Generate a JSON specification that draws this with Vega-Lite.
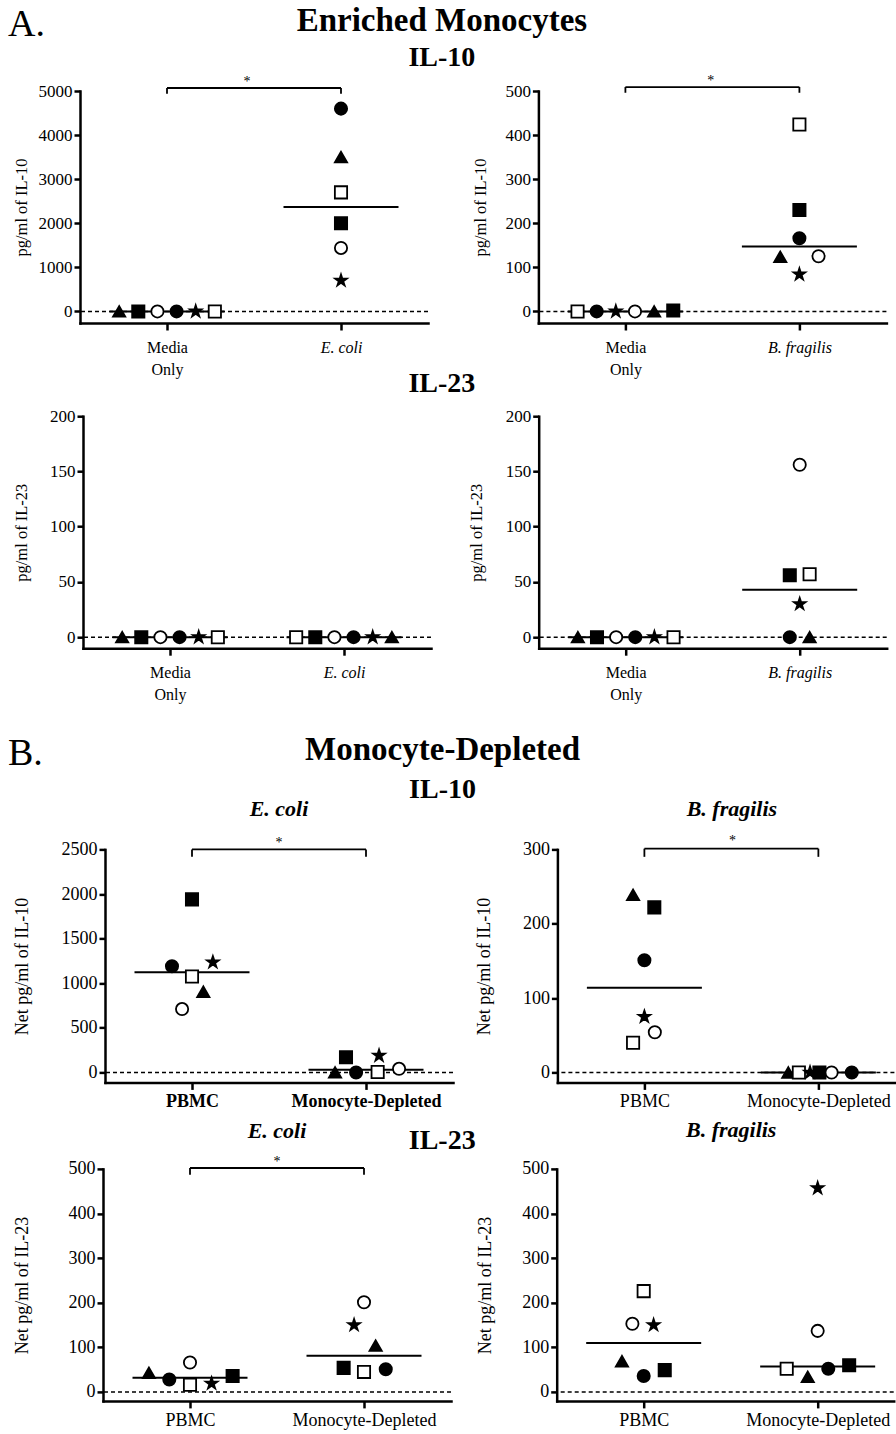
{
"$schema": "https://vega.github.io/schema/vega-lite/v6.json",
"background": "white",
"padding": {"left": 8, "top": 4, "right": 0, "bottom": 0},
"columns": 1,
"align": "none",
"spacing": 30.4,
"datasets": {
"zero": [{"v": 0}],
"points": [
{"panel":"A1","x":0.725,"y":0,"marker":"tri"},
{"panel":"A1","x":0.835,"y":0,"marker":"fsq"},
{"panel":"A1","x":0.945,"y":0,"marker":"oc"},
{"panel":"A1","x":1.055,"y":0,"marker":"fc"},
{"panel":"A1","x":1.165,"y":0,"marker":"star"},
{"panel":"A1","x":1.275,"y":0,"marker":"osq"},
{"panel":"A1","x":2,"y":4600,"marker":"fc"},
{"panel":"A1","x":2,"y":3500,"marker":"tri"},
{"panel":"A1","x":2,"y":2700,"marker":"osq"},
{"panel":"A1","x":2,"y":2000,"marker":"fsq"},
{"panel":"A1","x":2,"y":1440,"marker":"oc"},
{"panel":"A1","x":2,"y":700,"marker":"star"},
{"panel":"A2","x":0.725,"y":0,"marker":"osq"},
{"panel":"A2","x":0.835,"y":0,"marker":"fc"},
{"panel":"A2","x":0.945,"y":0,"marker":"star"},
{"panel":"A2","x":1.055,"y":0,"marker":"oc"},
{"panel":"A2","x":1.165,"y":0,"marker":"tri"},
{"panel":"A2","x":1.275,"y":2,"marker":"fsq"},
{"panel":"A2","x":2,"y":424,"marker":"osq"},
{"panel":"A2","x":2,"y":230,"marker":"fsq"},
{"panel":"A2","x":2,"y":166,"marker":"fc"},
{"panel":"A2","x":1.89,"y":124,"marker":"tri"},
{"panel":"A2","x":2.11,"y":125,"marker":"oc"},
{"panel":"A2","x":2,"y":84,"marker":"star"},
{"panel":"A3","x":0.725,"y":0,"marker":"tri"},
{"panel":"A3","x":0.835,"y":0,"marker":"fsq"},
{"panel":"A3","x":0.945,"y":0,"marker":"oc"},
{"panel":"A3","x":1.055,"y":0,"marker":"fc"},
{"panel":"A3","x":1.165,"y":0,"marker":"star"},
{"panel":"A3","x":1.275,"y":0,"marker":"osq"},
{"panel":"A3","x":1.725,"y":0,"marker":"osq"},
{"panel":"A3","x":1.835,"y":0,"marker":"fsq"},
{"panel":"A3","x":1.945,"y":0,"marker":"oc"},
{"panel":"A3","x":2.055,"y":0,"marker":"fc"},
{"panel":"A3","x":2.165,"y":0,"marker":"star"},
{"panel":"A3","x":2.275,"y":0,"marker":"tri"},
{"panel":"A4","x":0.725,"y":0,"marker":"tri"},
{"panel":"A4","x":0.835,"y":0,"marker":"fsq"},
{"panel":"A4","x":0.945,"y":0,"marker":"oc"},
{"panel":"A4","x":1.055,"y":0,"marker":"fc"},
{"panel":"A4","x":1.165,"y":0,"marker":"star"},
{"panel":"A4","x":1.275,"y":0,"marker":"osq"},
{"panel":"A4","x":2,"y":156,"marker":"oc"},
{"panel":"A4","x":1.943,"y":56,"marker":"fsq"},
{"panel":"A4","x":2.057,"y":57,"marker":"osq"},
{"panel":"A4","x":2,"y":30,"marker":"star"},
{"panel":"A4","x":1.943,"y":0,"marker":"fc"},
{"panel":"A4","x":2.057,"y":0,"marker":"tri"},
{"panel":"B1","x":1,"y":1940,"marker":"fsq"},
{"panel":"B1","x":0.885,"y":1190,"marker":"fc"},
{"panel":"B1","x":1.12,"y":1235,"marker":"star"},
{"panel":"B1","x":1,"y":1075,"marker":"osq"},
{"panel":"B1","x":1.065,"y":905,"marker":"tri"},
{"panel":"B1","x":0.943,"y":710,"marker":"oc"},
{"panel":"B1","x":1.885,"y":170,"marker":"fsq"},
{"panel":"B1","x":2.075,"y":188,"marker":"star"},
{"panel":"B1","x":1.822,"y":0,"marker":"tri"},
{"panel":"B1","x":1.943,"y":0,"marker":"fc"},
{"panel":"B1","x":2.067,"y":5,"marker":"osq"},
{"panel":"B1","x":2.19,"y":40,"marker":"oc"},
{"panel":"B2","x":0.935,"y":239,"marker":"tri"},
{"panel":"B2","x":1.057,"y":222,"marker":"fsq"},
{"panel":"B2","x":1,"y":151,"marker":"fc"},
{"panel":"B2","x":1,"y":75,"marker":"star"},
{"panel":"B2","x":1.06,"y":54,"marker":"oc"},
{"panel":"B2","x":0.935,"y":40,"marker":"osq"},
{"panel":"B2","x":1.827,"y":0,"marker":"tri"},
{"panel":"B2","x":1.888,"y":0,"marker":"osq"},
{"panel":"B2","x":1.952,"y":0,"marker":"star"},
{"panel":"B2","x":2.006,"y":0,"marker":"fsq"},
{"panel":"B2","x":2.076,"y":0,"marker":"oc"},
{"panel":"B2","x":2.192,"y":0,"marker":"fc"},
{"panel":"B3","x":0.764,"y":43,"marker":"tri"},
{"panel":"B3","x":0.881,"y":28,"marker":"fc"},
{"panel":"B3","x":1,"y":66,"marker":"oc"},
{"panel":"B3","x":1,"y":16,"marker":"osq"},
{"panel":"B3","x":1.124,"y":19,"marker":"star"},
{"panel":"B3","x":1.245,"y":36,"marker":"fsq"},
{"panel":"B3","x":2,"y":201,"marker":"oc"},
{"panel":"B3","x":1.943,"y":150,"marker":"star"},
{"panel":"B3","x":2.067,"y":104,"marker":"tri"},
{"panel":"B3","x":1.883,"y":54,"marker":"fsq"},
{"panel":"B3","x":2,"y":45,"marker":"osq"},
{"panel":"B3","x":2.125,"y":51,"marker":"fc"},
{"panel":"B4","x":1,"y":226,"marker":"osq"},
{"panel":"B4","x":0.935,"y":153,"marker":"oc"},
{"panel":"B4","x":1.057,"y":150,"marker":"star"},
{"panel":"B4","x":0.875,"y":69,"marker":"tri"},
{"panel":"B4","x":1,"y":36,"marker":"fc"},
{"panel":"B4","x":1.121,"y":49,"marker":"fsq"},
{"panel":"B4","x":2,"y":457,"marker":"star"},
{"panel":"B4","x":2,"y":137,"marker":"oc"},
{"panel":"B4","x":1.822,"y":52,"marker":"osq"},
{"panel":"B4","x":1.943,"y":34,"marker":"tri"},
{"panel":"B4","x":2.061,"y":52,"marker":"fc"},
{"panel":"B4","x":2.181,"y":60,"marker":"fsq"}
],
"means": [
{"panel":"A1","x":1,"y":0},{"panel":"A1","x":2,"y":2370},
{"panel":"A2","x":1,"y":0},{"panel":"A2","x":2,"y":147},
{"panel":"A3","x":1,"y":0},{"panel":"A3","x":2,"y":0},
{"panel":"A4","x":1,"y":0},{"panel":"A4","x":2,"y":43},
{"panel":"B1","x":1,"y":1123},{"panel":"B1","x":2,"y":29},
{"panel":"B2","x":1,"y":114},{"panel":"B2","x":2,"y":0},
{"panel":"B3","x":1,"y":32},{"panel":"B3","x":2,"y":81},
{"panel":"B4","x":1,"y":110},{"panel":"B4","x":2,"y":57}
],
"brackets": [
{"panel":"A1","xa":1,"xb":2,"ya":5068,"yb":5068},
{"panel":"A1","xa":1,"xb":1,"ya":5068,"yb":4935},
{"panel":"A1","xa":2,"xb":2,"ya":5068,"yb":4935},
{"panel":"A2","xa":1,"xb":2,"ya":509,"yb":509},
{"panel":"A2","xa":1,"xb":1,"ya":509,"yb":496},
{"panel":"A2","xa":2,"xb":2,"ya":509,"yb":496},
{"panel":"B1","xa":1,"xb":2,"ya":2500,"yb":2500},
{"panel":"B1","xa":1,"xb":1,"ya":2500,"yb":2418},
{"panel":"B1","xa":2,"xb":2,"ya":2500,"yb":2418},
{"panel":"B2","xa":1,"xb":2,"ya":301,"yb":301},
{"panel":"B2","xa":1,"xb":1,"ya":301,"yb":290},
{"panel":"B2","xa":2,"xb":2,"ya":301,"yb":290},
{"panel":"B3","xa":1,"xb":2,"ya":502,"yb":502},
{"panel":"B3","xa":1,"xb":1,"ya":502,"yb":487},
{"panel":"B3","xa":2,"xb":2,"ya":502,"yb":487}
],
"stars": [
{"panel":"A1","x":1.46,"y":5280,"label":"*"},
{"panel":"A2","x":1.49,"y":530,"label":"*"},
{"panel":"B1","x":1.5,"y":2604,"label":"*"},
{"panel":"B2","x":1.506,"y":315,"label":"*"},
{"panel":"B3","x":1.5,"y":522,"label":"*"}
]
},
"config": {
"view": {"stroke": null},
"font": "Liberation Serif",
"axis": {"grid": false, "domainColor": "black", "domainWidth": 2.5, "domainCap": "square", "tickColor": "black", "tickWidth": 2.5, "labelColor": "black", "titleColor": "black", "labelFont": "Liberation Serif", "titleFont": "Liberation Serif", "titleFontWeight": "normal", "labelFlush": false, "labelOverlap": false, "labelAngle": 0},
"title": {"font": "Liberation Serif", "color": "black", "fontWeight": "bold", "subtitleFont": "Liberation Serif", "subtitleColor": "black", "subtitleFontWeight": "bold"}
},
"concat": [
{
"title": {"text": "Enriched Monocytes", "subtitle": "IL-10", "fontSize": 33, "subtitleFontSize": 28, "subtitlePadding": 6.5, "anchor": "middle", "frame": "bounds", "offset": -66.5, "dx": -5.8},
"columns": 1,
"align": "none",
"spacing": -8.8,
"concat": [
{
"title": {"text": "A.", "anchor": "start", "frame": "bounds", "fontSize": 38, "fontWeight": "normal", "offset": 30.2, "dx": -4},
"spacing": 0,
"hconcat": [
{"width": 1, "height": 1, "data": {"values": []}, "mark": {"type": "point", "opacity": 0}},
{"spacing": 42.4,
"hconcat": [
{"width": 348, "height": 232, "layer": [
{"data": {"name": "zero"}, "mark": {"type": "rule", "strokeDash": [4, 3], "strokeWidth": 1.5, "color": "black"}, "encoding": {"y": {"field": "v", "type": "quantitative"}}},
{"data": {"name": "means"}, "transform": [{"filter": "datum.panel == 'A1'"}], "mark": {"type": "tick", "orient": "horizontal", "size": 115, "thickness": 2, "color": "black", "opacity": 1}, "encoding": {"x": {"field": "x", "type": "quantitative"}, "y": {"field": "y", "type": "quantitative"}}},
{"data": {"name": "brackets"}, "transform": [{"filter": "datum.panel == 'A1'"}], "mark": {"type": "rule", "strokeWidth": 1.8, "color": "black"}, "encoding": {"x": {"field": "xa", "type": "quantitative"}, "x2": {"field": "xb"}, "y": {"field": "ya", "type": "quantitative"}, "y2": {"field": "yb"}}},
{"data": {"name": "stars"}, "transform": [{"filter": "datum.panel == 'A1'"}], "mark": {"type": "text", "fontSize": 14, "baseline": "middle", "align": "center", "fill": "black", "dy": 3}, "encoding": {"x": {"field": "x", "type": "quantitative"}, "y": {"field": "y", "type": "quantitative"}, "text": {"field": "label"}}},
{"data": {"name": "points"}, "transform": [{"filter": "datum.panel == 'A1'"}], "mark": {"type": "point", "filled": true, "size": 150, "stroke": "black", "strokeWidth": 1.8, "opacity": 1},
"encoding": {
"x": {"field": "x", "type": "quantitative", "scale": {"domain": [0.5, 2.5], "nice": false, "zero": false}, "axis": {"values": [1, 2], "title": null, "labelExpr": "datum.value == 1 ? ['Media', 'Only'] : 'E. coli'", "tickSize": 7, "labelPadding": 9.4, "labelFontSize": 16, "labelLineHeight": 22, "labelFontStyle": {"condition": {"test": "datum.value == 2", "value": "italic"}, "value": "normal"}}},
"y": {"field": "y", "type": "quantitative", "scale": {"domain": [-263, 5000], "nice": false, "zero": false}, "axis": {"values": [0, 1000, 2000, 3000, 4000, 5000], "format": "d", "title": "pg/ml of IL-10", "titleFontSize": 16.5, "titlePadding": 8.5, "labelFontSize": 17, "labelPadding": 2, "tickSize": 6}},
"shape": {"field": "marker", "type": "nominal", "scale": {"domain": ["tri", "fsq", "oc", "fc", "star", "osq"], "range": ["triangle-up", "square", "circle", "circle", "M0,-1L0.2245,-0.309L0.951,-0.309L0.363,0.118L0.588,0.809L0,0.382L-0.588,0.809L-0.363,0.118L-0.951,-0.309L-0.2245,-0.309Z", "square"]}, "legend": null},
"fill": {"field": "marker", "type": "nominal", "scale": {"domain": ["tri", "fsq", "oc", "fc", "star", "osq"], "range": ["black", "black", "white", "black", "black", "white"]}, "legend": null}
}}
]},
{"width": 348, "height": 232, "layer": [
{"data": {"name": "zero"}, "mark": {"type": "rule", "strokeDash": [4, 3], "strokeWidth": 1.5, "color": "black"}, "encoding": {"y": {"field": "v", "type": "quantitative"}}},
{"data": {"name": "means"}, "transform": [{"filter": "datum.panel == 'A2'"}], "mark": {"type": "tick", "orient": "horizontal", "size": 115, "thickness": 2, "color": "black", "opacity": 1}, "encoding": {"x": {"field": "x", "type": "quantitative"}, "y": {"field": "y", "type": "quantitative"}}},
{"data": {"name": "brackets"}, "transform": [{"filter": "datum.panel == 'A2'"}], "mark": {"type": "rule", "strokeWidth": 1.8, "color": "black"}, "encoding": {"x": {"field": "xa", "type": "quantitative"}, "x2": {"field": "xb"}, "y": {"field": "ya", "type": "quantitative"}, "y2": {"field": "yb"}}},
{"data": {"name": "stars"}, "transform": [{"filter": "datum.panel == 'A2'"}], "mark": {"type": "text", "fontSize": 14, "baseline": "middle", "align": "center", "fill": "black", "dy": 3}, "encoding": {"x": {"field": "x", "type": "quantitative"}, "y": {"field": "y", "type": "quantitative"}, "text": {"field": "label"}}},
{"data": {"name": "points"}, "transform": [{"filter": "datum.panel == 'A2'"}], "mark": {"type": "point", "filled": true, "size": 150, "stroke": "black", "strokeWidth": 1.8, "opacity": 1},
"encoding": {
"x": {"field": "x", "type": "quantitative", "scale": {"domain": [0.5, 2.5], "nice": false, "zero": false}, "axis": {"values": [1, 2], "title": null, "labelExpr": "datum.value == 1 ? ['Media', 'Only'] : 'B. fragilis'", "tickSize": 7, "labelPadding": 9.4, "labelFontSize": 16, "labelLineHeight": 22, "labelFontStyle": {"condition": {"test": "datum.value == 2", "value": "italic"}, "value": "normal"}}},
"y": {"field": "y", "type": "quantitative", "scale": {"domain": [-26.3, 500], "nice": false, "zero": false}, "axis": {"values": [0, 100, 200, 300, 400, 500], "format": "d", "title": "pg/ml of IL-10", "titleFontSize": 16.5, "titlePadding": 16.6, "labelFontSize": 17, "labelPadding": 2, "tickSize": 6}},
"shape": {"field": "marker", "type": "nominal", "scale": {"domain": ["tri", "fsq", "oc", "fc", "star", "osq"], "range": ["triangle-up", "square", "circle", "circle", "M0,-1L0.2245,-0.309L0.951,-0.309L0.363,0.118L0.588,0.809L0,0.382L-0.588,0.809L-0.363,0.118L-0.951,-0.309L-0.2245,-0.309Z", "square"]}, "legend": null},
"fill": {"field": "marker", "type": "nominal", "scale": {"domain": ["tri", "fsq", "oc", "fc", "star", "osq"], "range": ["black", "black", "white", "black", "black", "white"]}, "legend": null}
}}
]}
]}
]
},
{
"title": {"text": "IL-23", "fontSize": 28, "anchor": "middle", "frame": "bounds", "offset": 9.1, "dx": -7.8},
"spacing": 0,
"hconcat": [
{"width": 1, "height": 1, "data": {"values": []}, "mark": {"type": "point", "opacity": 0}},
{"spacing": 35.7,
"hconcat": [
{"width": 348, "height": 232, "layer": [
{"data": {"name": "zero"}, "mark": {"type": "rule", "strokeDash": [4, 3], "strokeWidth": 1.5, "color": "black"}, "encoding": {"y": {"field": "v", "type": "quantitative"}}},
{"data": {"name": "means"}, "transform": [{"filter": "datum.panel == 'A3'"}], "mark": {"type": "tick", "orient": "horizontal", "size": 115, "thickness": 2, "color": "black", "opacity": 1}, "encoding": {"x": {"field": "x", "type": "quantitative"}, "y": {"field": "y", "type": "quantitative"}}},
{"data": {"name": "points"}, "transform": [{"filter": "datum.panel == 'A3'"}], "mark": {"type": "point", "filled": true, "size": 150, "stroke": "black", "strokeWidth": 1.8, "opacity": 1},
"encoding": {
"x": {"field": "x", "type": "quantitative", "scale": {"domain": [0.5, 2.5], "nice": false, "zero": false}, "axis": {"values": [1, 2], "title": null, "labelExpr": "datum.value == 1 ? ['Media', 'Only'] : 'E. coli'", "tickSize": 7, "labelPadding": 9.4, "labelFontSize": 16, "labelLineHeight": 22, "labelFontStyle": {"condition": {"test": "datum.value == 2", "value": "italic"}, "value": "normal"}}},
"y": {"field": "y", "type": "quantitative", "scale": {"domain": [-10, 200], "nice": false, "zero": false}, "axis": {"values": [0, 50, 100, 150, 200], "format": "d", "title": "pg/ml of IL-23", "titleFontSize": 16.5, "titlePadding": 20.3, "labelFontSize": 17, "labelPadding": 2, "tickSize": 6}},
"shape": {"field": "marker", "type": "nominal", "scale": {"domain": ["tri", "fsq", "oc", "fc", "star", "osq"], "range": ["triangle-up", "square", "circle", "circle", "M0,-1L0.2245,-0.309L0.951,-0.309L0.363,0.118L0.588,0.809L0,0.382L-0.588,0.809L-0.363,0.118L-0.951,-0.309L-0.2245,-0.309Z", "square"]}, "legend": null},
"fill": {"field": "marker", "type": "nominal", "scale": {"domain": ["tri", "fsq", "oc", "fc", "star", "osq"], "range": ["black", "black", "white", "black", "black", "white"]}, "legend": null}
}}
]},
{"width": 348, "height": 232, "layer": [
{"data": {"name": "zero"}, "mark": {"type": "rule", "strokeDash": [4, 3], "strokeWidth": 1.5, "color": "black"}, "encoding": {"y": {"field": "v", "type": "quantitative"}}},
{"data": {"name": "means"}, "transform": [{"filter": "datum.panel == 'A4'"}], "mark": {"type": "tick", "orient": "horizontal", "size": 115, "thickness": 2, "color": "black", "opacity": 1}, "encoding": {"x": {"field": "x", "type": "quantitative"}, "y": {"field": "y", "type": "quantitative"}}},
{"data": {"name": "points"}, "transform": [{"filter": "datum.panel == 'A4'"}], "mark": {"type": "point", "filled": true, "size": 150, "stroke": "black", "strokeWidth": 1.8, "opacity": 1},
"encoding": {
"x": {"field": "x", "type": "quantitative", "scale": {"domain": [0.5, 2.5], "nice": false, "zero": false}, "axis": {"values": [1, 2], "title": null, "labelExpr": "datum.value == 1 ? ['Media', 'Only'] : 'B. fragilis'", "tickSize": 7, "labelPadding": 9.4, "labelFontSize": 16, "labelLineHeight": 22, "labelFontStyle": {"condition": {"test": "datum.value == 2", "value": "italic"}, "value": "normal"}}},
"y": {"field": "y", "type": "quantitative", "scale": {"domain": [-10, 200], "nice": false, "zero": false}, "axis": {"values": [0, 50, 100, 150, 200], "format": "d", "title": "pg/ml of IL-23", "titleFontSize": 16.5, "titlePadding": 21, "labelFontSize": 17, "labelPadding": 2, "tickSize": 6}},
"shape": {"field": "marker", "type": "nominal", "scale": {"domain": ["tri", "fsq", "oc", "fc", "star", "osq"], "range": ["triangle-up", "square", "circle", "circle", "M0,-1L0.2245,-0.309L0.951,-0.309L0.363,0.118L0.588,0.809L0,0.382L-0.588,0.809L-0.363,0.118L-0.951,-0.309L-0.2245,-0.309Z", "square"]}, "legend": null},
"fill": {"field": "marker", "type": "nominal", "scale": {"domain": ["tri", "fsq", "oc", "fc", "star", "osq"], "range": ["black", "black", "white", "black", "black", "white"]}, "legend": null}
}}
]}
]}
]
}
]
},
{
"title": {"text": "Monocyte-Depleted", "subtitle": "IL-10", "fontSize": 33, "subtitleFontSize": 28, "subtitlePadding": 8.9, "anchor": "middle", "frame": "bounds", "offset": -68.9, "dx": -9},
"columns": 1,
"align": "none",
"spacing": 7.5,
"concat": [
{
"title": {"text": "B.", "anchor": "start", "frame": "bounds", "fontSize": 38, "fontWeight": "normal", "offset": 24.9, "dx": -4},
"spacing": 0,
"hconcat": [
{"width": 1, "height": 1, "data": {"values": []}, "mark": {"type": "point", "opacity": 0}},
{"spacing": 21.4,
"hconcat": [
{"width": 348, "height": 233,
"title": {"text": "E. coli", "fontSize": 22, "fontStyle": "italic", "fontWeight": "bold", "anchor": "middle", "frame": "group", "offset": 15.4},
"layer": [
{"data": {"name": "zero"}, "mark": {"type": "rule", "strokeDash": [4, 3], "strokeWidth": 1.5, "color": "black"}, "encoding": {"y": {"field": "v", "type": "quantitative"}}},
{"data": {"name": "means"}, "transform": [{"filter": "datum.panel == 'B1'"}], "mark": {"type": "tick", "orient": "horizontal", "size": 115, "thickness": 2, "color": "black", "opacity": 1}, "encoding": {"x": {"field": "x", "type": "quantitative"}, "y": {"field": "y", "type": "quantitative"}}},
{"data": {"name": "brackets"}, "transform": [{"filter": "datum.panel == 'B1'"}], "mark": {"type": "rule", "strokeWidth": 1.8, "color": "black"}, "encoding": {"x": {"field": "xa", "type": "quantitative"}, "x2": {"field": "xb"}, "y": {"field": "ya", "type": "quantitative"}, "y2": {"field": "yb"}}},
{"data": {"name": "stars"}, "transform": [{"filter": "datum.panel == 'B1'"}], "mark": {"type": "text", "fontSize": 14, "baseline": "middle", "align": "center", "fill": "black", "dy": 3}, "encoding": {"x": {"field": "x", "type": "quantitative"}, "y": {"field": "y", "type": "quantitative"}, "text": {"field": "label"}}},
{"data": {"name": "points"}, "transform": [{"filter": "datum.panel == 'B1'"}], "mark": {"type": "point", "filled": true, "size": 150, "stroke": "black", "strokeWidth": 1.8, "opacity": 1},
"encoding": {
"x": {"field": "x", "type": "quantitative", "scale": {"domain": [0.5, 2.5], "nice": false, "zero": false}, "axis": {"values": [1, 2], "title": null, "labelExpr": "datum.value == 1 ? 'PBMC' : 'Monocyte-Depleted'", "tickSize": 7, "labelPadding": 2.8, "labelFontSize": 18, "labelFontWeight": "bold"}},
"y": {"field": "y", "type": "quantitative", "scale": {"domain": [-112, 2500], "nice": false, "zero": false}, "axis": {"values": [0, 500, 1000, 1500, 2000, 2500], "format": "d", "title": "Net pg/ml of IL-10", "titleFontSize": 18, "titlePadding": 29.3, "labelFontSize": 18, "labelPadding": 2, "tickSize": 6}},
"shape": {"field": "marker", "type": "nominal", "scale": {"domain": ["tri", "fsq", "oc", "fc", "star", "osq"], "range": ["triangle-up", "square", "circle", "circle", "M0,-1L0.2245,-0.309L0.951,-0.309L0.363,0.118L0.588,0.809L0,0.382L-0.588,0.809L-0.363,0.118L-0.951,-0.309L-0.2245,-0.309Z", "square"]}, "legend": null},
"fill": {"field": "marker", "type": "nominal", "scale": {"domain": ["tri", "fsq", "oc", "fc", "star", "osq"], "range": ["black", "black", "white", "black", "black", "white"]}, "legend": null}
}}
]},
{"width": 337, "height": 233,
"title": {"text": "B. fragilis", "fontSize": 22, "fontStyle": "italic", "fontWeight": "bold", "anchor": "middle", "frame": "group", "offset": 13.5, "dx": 6},
"layer": [
{"data": {"name": "zero"}, "mark": {"type": "rule", "strokeDash": [4, 3], "strokeWidth": 1.5, "color": "black"}, "encoding": {"y": {"field": "v", "type": "quantitative"}}},
{"data": {"name": "means"}, "transform": [{"filter": "datum.panel == 'B2'"}], "mark": {"type": "tick", "orient": "horizontal", "size": 115, "thickness": 2, "color": "black", "opacity": 1}, "encoding": {"x": {"field": "x", "type": "quantitative"}, "y": {"field": "y", "type": "quantitative"}}},
{"data": {"name": "brackets"}, "transform": [{"filter": "datum.panel == 'B2'"}], "mark": {"type": "rule", "strokeWidth": 1.8, "color": "black"}, "encoding": {"x": {"field": "xa", "type": "quantitative"}, "x2": {"field": "xb"}, "y": {"field": "ya", "type": "quantitative"}, "y2": {"field": "yb"}}},
{"data": {"name": "stars"}, "transform": [{"filter": "datum.panel == 'B2'"}], "mark": {"type": "text", "fontSize": 14, "baseline": "middle", "align": "center", "fill": "black", "dy": 3}, "encoding": {"x": {"field": "x", "type": "quantitative"}, "y": {"field": "y", "type": "quantitative"}, "text": {"field": "label"}}},
{"data": {"name": "points"}, "transform": [{"filter": "datum.panel == 'B2'"}], "mark": {"type": "point", "filled": true, "size": 150, "stroke": "black", "strokeWidth": 1.8, "opacity": 1},
"encoding": {
"x": {"field": "x", "type": "quantitative", "scale": {"domain": [0.5, 2.437], "nice": false, "zero": false}, "axis": {"values": [1, 2], "title": null, "labelExpr": "datum.value == 1 ? 'PBMC' : 'Monocyte-Depleted'", "tickSize": 7, "labelPadding": 2.8, "labelFontSize": 18}},
"y": {"field": "y", "type": "quantitative", "scale": {"domain": [-13.4, 300], "nice": false, "zero": false}, "axis": {"values": [0, 50, 100, 150, 200, 250, 300], "format": "d", "title": "Net pg/ml of IL-10", "titleFontSize": 18, "titlePadding": 28.7, "labelFontSize": 18, "labelPadding": 2, "tickSize": 6}},
"shape": {"field": "marker", "type": "nominal", "scale": {"domain": ["tri", "fsq", "oc", "fc", "star", "osq"], "range": ["triangle-up", "square", "circle", "circle", "M0,-1L0.2245,-0.309L0.951,-0.309L0.363,0.118L0.588,0.809L0,0.382L-0.588,0.809L-0.363,0.118L-0.951,-0.309L-0.2245,-0.309Z", "square"]}, "legend": null},
"fill": {"field": "marker", "type": "nominal", "scale": {"domain": ["tri", "fsq", "oc", "fc", "star", "osq"], "range": ["black", "black", "white", "black", "black", "white"]}, "legend": null}
}}
]}
]}
]
},
{
"title": {"text": "IL-23", "fontSize": 28, "anchor": "middle", "frame": "bounds", "offset": -36.3, "dx": -11},
"spacing": 0,
"hconcat": [
{"width": 1, "height": 1, "data": {"values": []}, "mark": {"type": "point", "opacity": 0}},
{"spacing": 24.7,
"hconcat": [
{"width": 348, "height": 232,
"title": {"text": "E. coli", "fontSize": 22, "fontStyle": "italic", "fontWeight": "bold", "anchor": "middle", "frame": "group", "offset": 12.1},
"layer": [
{"data": {"name": "zero"}, "mark": {"type": "rule", "strokeDash": [4, 3], "strokeWidth": 1.5, "color": "black"}, "encoding": {"y": {"field": "v", "type": "quantitative"}}},
{"data": {"name": "means"}, "transform": [{"filter": "datum.panel == 'B3'"}], "mark": {"type": "tick", "orient": "horizontal", "size": 115, "thickness": 2, "color": "black", "opacity": 1}, "encoding": {"x": {"field": "x", "type": "quantitative"}, "y": {"field": "y", "type": "quantitative"}}},
{"data": {"name": "brackets"}, "transform": [{"filter": "datum.panel == 'B3'"}], "mark": {"type": "rule", "strokeWidth": 1.8, "color": "black"}, "encoding": {"x": {"field": "xa", "type": "quantitative"}, "x2": {"field": "xb"}, "y": {"field": "ya", "type": "quantitative"}, "y2": {"field": "yb"}}},
{"data": {"name": "stars"}, "transform": [{"filter": "datum.panel == 'B3'"}], "mark": {"type": "text", "fontSize": 14, "baseline": "middle", "align": "center", "fill": "black", "dy": 3}, "encoding": {"x": {"field": "x", "type": "quantitative"}, "y": {"field": "y", "type": "quantitative"}, "text": {"field": "label"}}},
{"data": {"name": "points"}, "transform": [{"filter": "datum.panel == 'B3'"}], "mark": {"type": "point", "filled": true, "size": 150, "stroke": "black", "strokeWidth": 1.8, "opacity": 1},
"encoding": {
"x": {"field": "x", "type": "quantitative", "scale": {"domain": [0.5, 2.5], "nice": false, "zero": false}, "axis": {"values": [1, 2], "title": null, "labelExpr": "datum.value == 1 ? 'PBMC' : 'Monocyte-Depleted'", "tickSize": 7, "labelPadding": 3.8, "labelFontSize": 18}},
"y": {"field": "y", "type": "quantitative", "scale": {"domain": [-20, 500], "nice": false, "zero": false}, "axis": {"values": [0, 100, 200, 300, 400, 500], "format": "d", "title": "Net pg/ml of IL-23", "titleFontSize": 18, "titlePadding": 36.7, "labelFontSize": 18, "labelPadding": 2, "tickSize": 6}},
"shape": {"field": "marker", "type": "nominal", "scale": {"domain": ["tri", "fsq", "oc", "fc", "star", "osq"], "range": ["triangle-up", "square", "circle", "circle", "M0,-1L0.2245,-0.309L0.951,-0.309L0.363,0.118L0.588,0.809L0,0.382L-0.588,0.809L-0.363,0.118L-0.951,-0.309L-0.2245,-0.309Z", "square"]}, "legend": null},
"fill": {"field": "marker", "type": "nominal", "scale": {"domain": ["tri", "fsq", "oc", "fc", "star", "osq"], "range": ["black", "black", "white", "black", "black", "white"]}, "legend": null}
}}
]},
{"width": 337, "height": 232,
"title": {"text": "B. fragilis", "fontSize": 22, "fontStyle": "italic", "fontWeight": "bold", "anchor": "middle", "frame": "group", "offset": 18.1, "dx": 6},
"layer": [
{"data": {"name": "zero"}, "mark": {"type": "rule", "strokeDash": [4, 3], "strokeWidth": 1.5, "color": "black"}, "encoding": {"y": {"field": "v", "type": "quantitative"}}},
{"data": {"name": "means"}, "transform": [{"filter": "datum.panel == 'B4'"}], "mark": {"type": "tick", "orient": "horizontal", "size": 115, "thickness": 2, "color": "black", "opacity": 1}, "encoding": {"x": {"field": "x", "type": "quantitative"}, "y": {"field": "y", "type": "quantitative"}}},
{"data": {"name": "points"}, "transform": [{"filter": "datum.panel == 'B4'"}], "mark": {"type": "point", "filled": true, "size": 150, "stroke": "black", "strokeWidth": 1.8, "opacity": 1},
"encoding": {
"x": {"field": "x", "type": "quantitative", "scale": {"domain": [0.5, 2.437], "nice": false, "zero": false}, "axis": {"values": [1, 2], "title": null, "labelExpr": "datum.value == 1 ? 'PBMC' : 'Monocyte-Depleted'", "tickSize": 7, "labelPadding": 3.8, "labelFontSize": 18}},
"y": {"field": "y", "type": "quantitative", "scale": {"domain": [-20, 500], "nice": false, "zero": false}, "axis": {"values": [0, 100, 200, 300, 400, 500], "format": "d", "title": "Net pg/ml of IL-23", "titleFontSize": 18, "titlePadding": 27, "labelFontSize": 18, "labelPadding": 2, "tickSize": 6}},
"shape": {"field": "marker", "type": "nominal", "scale": {"domain": ["tri", "fsq", "oc", "fc", "star", "osq"], "range": ["triangle-up", "square", "circle", "circle", "M0,-1L0.2245,-0.309L0.951,-0.309L0.363,0.118L0.588,0.809L0,0.382L-0.588,0.809L-0.363,0.118L-0.951,-0.309L-0.2245,-0.309Z", "square"]}, "legend": null},
"fill": {"field": "marker", "type": "nominal", "scale": {"domain": ["tri", "fsq", "oc", "fc", "star", "osq"], "range": ["black", "black", "white", "black", "black", "white"]}, "legend": null}
}}
]}
]}
]
}
]
}
]
}
